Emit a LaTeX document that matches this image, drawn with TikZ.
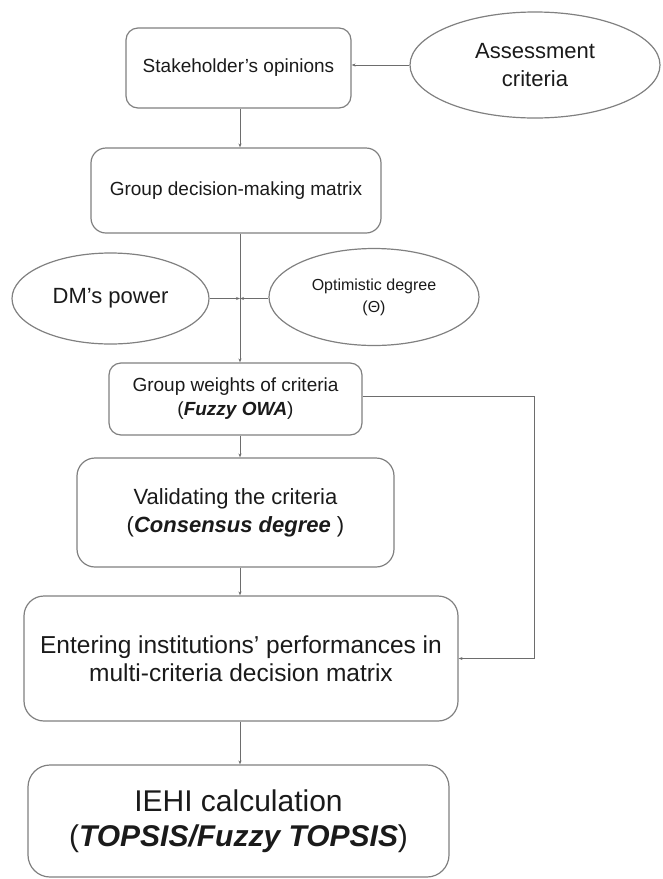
\documentclass[tikz,border=0pt]{standalone}
\usepackage{fontspec}
\setmainfont{Liberation Sans}
\usetikzlibrary{shapes.geometric,arrows.meta,calc}
\definecolor{linegray}{HTML}{808080}
\definecolor{txt}{HTML}{1A1A1A}
\begin{document}
\begin{tikzpicture}[x=1pt,y=-1pt,
  box/.style={draw=linegray, line width=1.2pt, rounded corners=#1, align=center, text=txt, inner sep=0pt},
  box/.default=14pt,
  oval/.style={draw=linegray, line width=1.2pt, ellipse, align=center, text=txt, inner sep=0pt},
  arr/.style={draw=linegray!85!black, line width=1pt, -{Stealth[length=4pt,width=3pt]}},
  ln/.style={draw=linegray!85!black, line width=1pt},
  bi/.style={}]
\useasboundingbox (0,0) rectangle (662,879);
\coordinate (t) at (240,0);

\node[box=12pt, minimum width=225pt, minimum height=80pt, font=\fontsize{19}{23}\selectfont] (b1) at (238.5,68) {Stakeholder’s opinions};
\node[oval, minimum width=250pt, minimum height=106pt, font=\fontsize{22}{28}\selectfont] (eA) at (535,65) {Assessment\\criteria};
\node[box=15pt, minimum width=290pt, minimum height=85pt, font=\fontsize{19}{23}\selectfont] (b2) at (236,190.5) {Group decision-making matrix};
\node[oval, minimum width=197pt, minimum height=91pt, font=\fontsize{22}{26}\selectfont] (eD) at (110.5,298.5) {DM’s power};
\node[oval, minimum width=210pt, minimum height=97pt, font=\fontsize{16}{22}\selectfont] (eO) at (374,297) {Optimistic degree\\(Θ)};
\node[box=12pt, minimum width=253pt, minimum height=72pt, font=\fontsize{19}{24}\selectfont] (b3) at (235.5,399) {Group weights of criteria\\(\textbf{\textit{Fuzzy OWA}})};
\node[box=18pt, minimum width=317pt, minimum height=109pt, font=\fontsize{22}{28}\selectfont] (b4) at (235.5,512.5) {Validating the criteria\\(\textbf{\textit{Consensus degree}} )};
\node[box=20pt, minimum width=434pt, minimum height=125pt, font=\fontsize{24.5}{28}\selectfont] (b5) at (241,658.5) {Entering institutions’ performances in\\multi-criteria decision matrix};
\node[box=22pt, minimum width=421pt, minimum height=112pt, font=\fontsize{30}{34.5}\selectfont] (b6) at (238.5,821) {IEHI calculation\\(\textbf{\textit{TOPSIS/Fuzzy TOPSIS}})};

\draw[arr] (eA.west) -- (b1.east |- eA.west);
\draw[arr] (t |- b1.south) -- (t |- b2.north);
\draw[arr] (t |- b2.south) -- (t |- b3.north);
\draw[arr] (eD.east) -- (t |- eD.east);
\draw[arr] (eO.west |- eD.east) -- (t |- eD.east);
\draw[arr] (t |- b3.south) -- (t |- b4.north);
\draw[arr] (t |- b4.south) -- (t |- b5.north);
\draw[arr] (t |- b5.south) -- (t |- b6.north);
\draw[arr] ([yshift=3pt]b3.east) -- ++(172,0) |- (b5.east);
\end{tikzpicture}
\end{document}
